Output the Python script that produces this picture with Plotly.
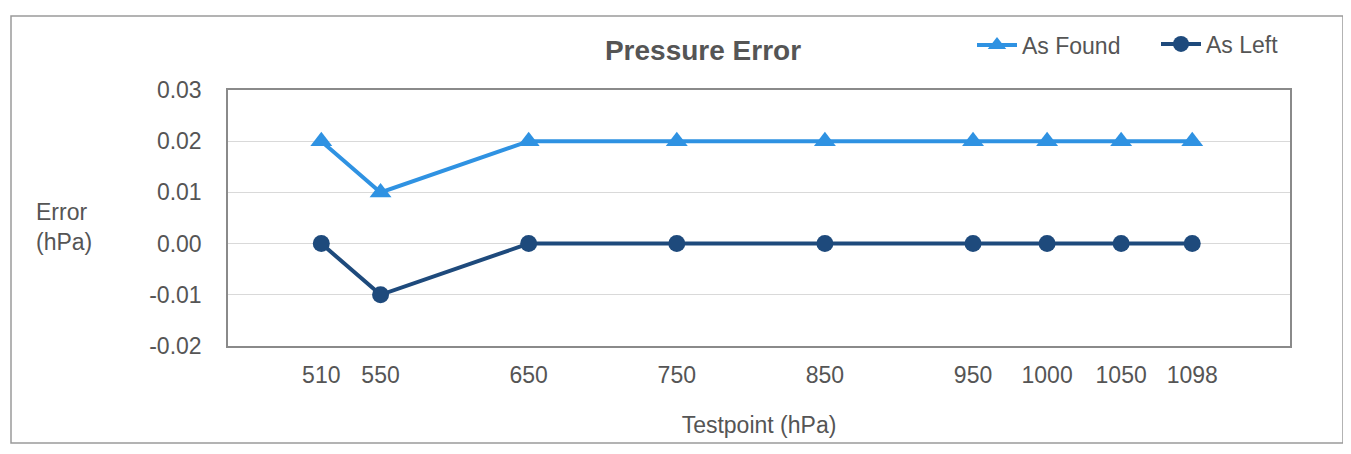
import plotly.graph_objects as go

testpoints = [510, 550, 650, 750, 850, 950, 1000, 1050, 1098]
tick_labels = ["510", "550", "650", "750", "850", "950", "1000", "1050", "1098"]
as_found = [0.020, 0.010, 0.020, 0.020, 0.020, 0.020, 0.020, 0.020, 0.020]
as_left = [0.000, -0.010, 0.000, 0.000, 0.000, 0.000, 0.000, 0.000, 0.000]

OFF = 8  # page body margin
W, H = 1351 - OFF, 454 - OFF
L, R, T, B = 228 - OFF, 1290 - OFF, 90 - OFF, 346 - OFF


def px(p):
    return (p - OFF - L) / (R - L)


def py(q):
    return (B - (q - OFF)) / (B - T)


font = "Liberation Sans, Arial, sans-serif"
light = "#2F92E2"
dark = "#1E4A7C"
txt = "#555555"

fig = go.Figure()
fig.add_trace(go.Scatter(
    x=testpoints, y=as_found, name="As Found", mode="lines+markers",
    line=dict(color=light, width=4), legend="legend",
    marker=dict(symbol="triangle-up", size=19, color=light),
))
fig.add_trace(go.Scatter(
    x=testpoints, y=as_left, name="As Left", mode="lines+markers",
    line=dict(color=dark, width=4), legend="legend2",
    marker=dict(symbol="circle", size=17, color=dark),
))

leg_common = dict(orientation="h", xanchor="left", yanchor="middle",
                  font=dict(family=font, size=23, color=txt),
                  bgcolor="rgba(0,0,0,0)", itemwidth=40)

fig.update_layout(
    width=W, height=H,
    margin=dict(l=L, r=W - R, t=T, b=H - B),
    paper_bgcolor="white", plot_bgcolor="white",
    font=dict(family=font, size=23, color=txt),
    title=dict(text="<b>Pressure Error</b>", x=(703 - OFF) / W, xanchor="center",
               y=1 - (50 - OFF) / H, yanchor="middle",
               font=dict(family=font, size=28, color=txt)),
    showlegend=True,
    legend=dict(x=px(972), y=py(45), **leg_common),
    legend2=dict(x=px(1156), y=py(44), **leg_common),
    xaxis=dict(range=[447, 1164], tickmode="array", tickvals=testpoints, ticktext=tick_labels,
               showgrid=False, zeroline=False, showline=True, mirror=True,
               linecolor="#8a8a8a", linewidth=1.5, ticks="", ticklabelstandoff=8,
               title=dict(text="Testpoint (hPa)", standoff=30,
                          font=dict(family=font, size=23, color=txt))),
    yaxis=dict(range=[-0.02, 0.03], tickmode="array",
               tickvals=[-0.02, -0.01, 0.0, 0.01, 0.02, 0.03],
               ticktext=["-0.02", "-0.01", "0.00", "0.01", "0.02", "0.03"],
               showgrid=True, gridcolor="#d9d9d9", gridwidth=1, zeroline=False,
               showline=True, mirror=True, linecolor="#8a8a8a", linewidth=1.5,
               ticks="", ticklabelstandoff=20),
)

fig.add_annotation(text="Error<br>(hPa)", xref="paper", yref="paper",
                   x=px(34), y=py(227), xanchor="left", yanchor="middle",
                   showarrow=False, align="left",
                   font=dict(family=font, size=23, color=txt))

fig.add_shape(type="rect", xref="paper", yref="paper",
              x0=px(11), x1=px(1343), y0=py(443), y1=py(16),
              line=dict(color="#9a9a9a", width=1.5), layer="below")

fig.write_html("out.html")
